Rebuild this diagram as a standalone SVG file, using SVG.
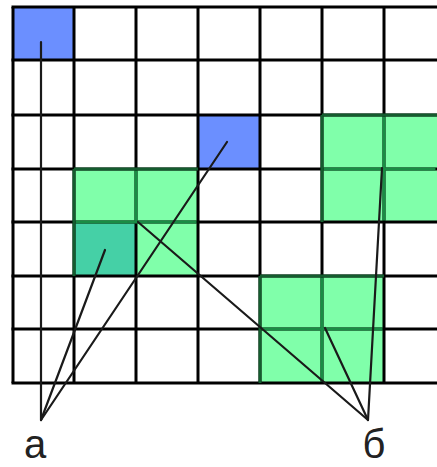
<svg xmlns="http://www.w3.org/2000/svg" width="437" height="467" viewBox="0 0 437 467">
<style>
.blue{fill:#6b8fff}
.green{fill:#80ffaa}
.teal{fill:#45d0a6}
.grid{stroke:#000;stroke-width:3;fill:none}
.gin{stroke:#1a8c45;stroke-width:3;fill:none}
.gb{stroke:#145c2e;stroke-width:3;fill:none}
.ptr{stroke:#1a1a1a;stroke-width:2.2;fill:none;stroke-linecap:round}
.lbl{font-family:"Liberation Sans",Arial,sans-serif;font-size:40px;fill:#222;text-anchor:middle}
</style>
<rect width="437" height="467" fill="#fff"/>
<g id="cells">
<rect id="blue1" class="blue" x="13" y="7" width="61" height="53"/>
<rect id="blue2" class="blue" x="198" y="115" width="62" height="54"/>
<g id="green1">
<rect class="green" x="74" y="169" width="124" height="107"/>
<rect class="teal" x="74" y="222" width="62" height="54"/>
</g>
<rect id="green2" class="green" x="322" y="115" width="115" height="107"/>
<rect id="green3" class="green" x="260" y="276" width="124" height="107"/>
</g>
<g id="grid">
<path class="grid" d="M13 7V383M74 7V383M136 7V383M198 7V383M260 7V383M322 7V383M384 7V383"/>
<path class="grid" d="M11.5 7H437M11.5 60H437M11.5 115H437M11.5 169H437M11.5 222H437M11.5 276H437M11.5 329H437M11.5 383H437"/>
</g>
<g id="green-lines">
<path class="gin" d="M136 170.5V220.5M75.5 222H196.5"/>
<path class="gb" d="M74 169H198M74 169V276"/>
<path class="gin" d="M384 116.5V220.5M323.5 169H435.5"/>
<path class="gb" d="M322 115V222M322 115H437"/>
<path class="gin" d="M322 277.5V381.5M261.5 329H382.5"/>
<path class="gb" d="M260 276V383M260 276H384"/>
</g>
<g id="connectors">
<path class="ptr" d="M41 42V420"/>
<path class="ptr" d="M41 420L105 250"/>
<path class="ptr" d="M41 420L227 142"/>
<path class="ptr" d="M368 420L138 222"/>
<path class="ptr" d="M368 420L325 328"/>
<path class="ptr" d="M368 420L382 168"/>
</g>
<g id="label-a"><text class="lbl" x="35" y="458">а</text></g>
<g id="label-b"><text class="lbl" x="374" y="458">б</text></g>
</svg>
